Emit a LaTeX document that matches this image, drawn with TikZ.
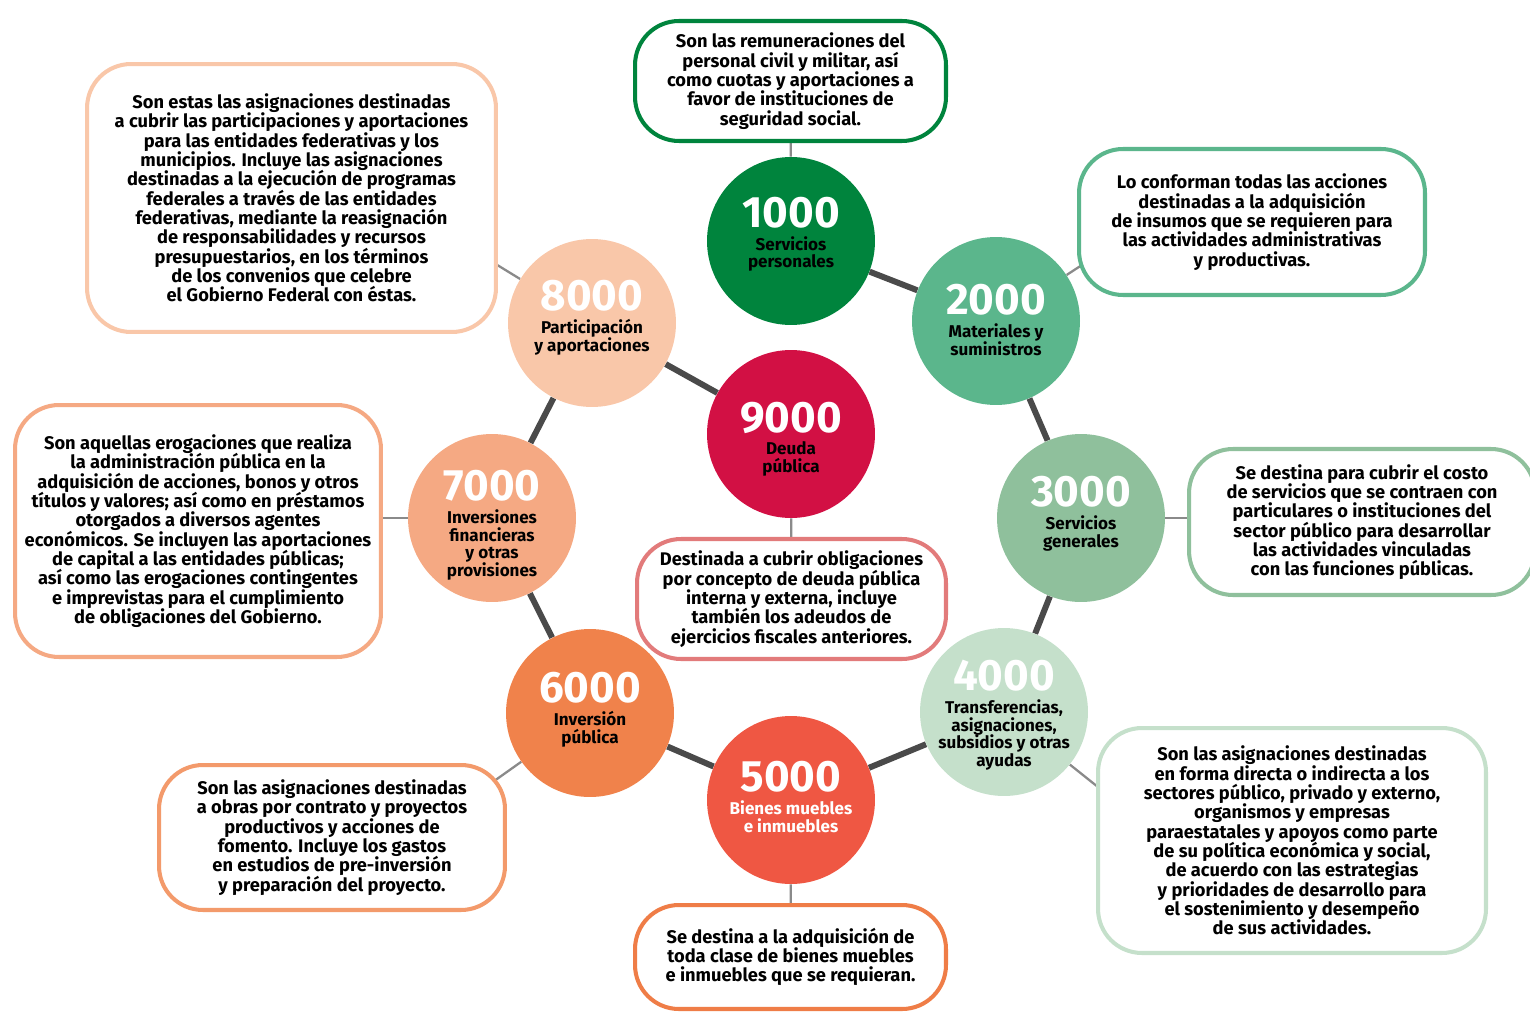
\documentclass[tikz,border=0pt]{standalone}
\usepackage{fontspec}
\setmainfont{Fira Sans}
\usetikzlibrary{calc,backgrounds}

% palette
\definecolor{cA}{HTML}{00843D}
\definecolor{cB}{HTML}{5BB68C}
\definecolor{cC}{HTML}{8FC09C}
\definecolor{cD}{HTML}{C5E0CB}
\definecolor{cE}{HTML}{EF5743}
\definecolor{cF}{HTML}{F0824B}
\definecolor{cG}{HTML}{F5A983}
\definecolor{cH}{HTML}{F9C7A9}
\definecolor{cI}{HTML}{D21044}
\definecolor{bE}{HTML}{EF7D47}
\definecolor{bF}{HTML}{F39A6B}
\definecolor{bI}{HTML}{E27B7B}
\definecolor{ringgray}{HTML}{4A4A4A}
\definecolor{linkgray}{HTML}{8A8A8A}

\begin{document}
\begin{tikzpicture}[x=0.02cm,y=-0.02cm,
  circ/.style={circle,minimum size=3.36cm,inner sep=0pt,draw=none},
  num/.style={inner sep=0pt,text=white,font=\fontsize{25}{25}\selectfont\bfseries},
  lab/.style={inner sep=0pt,align=center,text=black,font=\fontsize{9.7}{10.2}\selectfont\bfseries},
  card/.style={fill=white,line width=2.3pt,rounded corners=25pt,align=center,inner sep=0pt,
               text=black,font=\fontsize{10.4}{11}\selectfont\bfseries},
  ring/.style={draw=ringgray,line width=3.4pt},
  link/.style={draw=linkgray,line width=1.3pt}]
\useasboundingbox (0,0) rectangle (1530,1013);

% budget chapters
\node[circ,fill=cA] (c1) at (791,241) {};
\node[circ,fill=cB] (c2) at (996,321) {};
\node[circ,fill=cC] (c3) at (1081,518) {};
\node[circ,fill=cD] (c4) at (1004,712) {};
\node[circ,fill=cE] (c5) at (791,800) {};
\node[circ,fill=cF] (c6) at (590,713) {};
\node[circ,fill=cG] (c7) at (492,518) {};
\node[circ,fill=cH] (c8) at (592,323) {};
\node[circ,fill=cI] (c9) at (791,434) {};

\node[num] (n1) at ($(c1)+(0,-28)$) {1000};
\node[num] (n2) at ($(c2)+(0,-21)$) {2000};
\node[num] (n3) at ($(c3)+(0,-26)$) {3000};
\node[num] (n4) at ($(c4)+(0,-36)$) {4000};
\node[num] (n5) at ($(c5)+(0,-23)$) {5000};
\node[num] (n6) at ($(c6)+(0,-25)$) {6000};
\node[num] (n7) at ($(c7)+(0,-32)$) {7000};
\node[num] (n8) at ($(c8)+(0,-27)$) {8000};
\node[num] (n9) at ($(c9)+(0,-16)$) {9000};

\node[lab,anchor=north] (l1) at ([yshift=-4pt]n1.south) {Servicios\\personales};
\node[lab,anchor=north] (l2) at ([yshift=-4pt]n2.south) {Materiales y\\suministros};
\node[lab,anchor=north] (l3) at ([yshift=-4pt]n3.south) {Servicios\\generales};
\node[lab,anchor=north] (l4) at ([yshift=-4pt]n4.south) {Transferencias,\\asignaciones,\\subsidios y otras\\ayudas};
\node[lab,anchor=north,text=white] (l5) at ([yshift=-4pt]n5.south) {Bienes muebles\\e inmuebles};
\node[lab,anchor=north] (l6) at ([yshift=-4pt]n6.south) {Inversión\\pública};
\node[lab,anchor=north] (l7) at ([yshift=-4pt]n7.south) {Inversiones\\financieras\\y otras\\provisiones};
\node[lab,anchor=north] (l8) at ([yshift=-4pt]n8.south) {Participación\\y aportaciones};
\node[lab,anchor=north] (l9) at ([yshift=-4pt]n9.south) {Deuda\\pública};

% descriptions
\node[card,draw=cA,minimum width=6.22cm,minimum height=2.4cm] (b1) at (790.5,81)
  {Son las remuneraciones del\\personal civil y militar, así\\como cuotas y aportaciones a\\favor de instituciones de\\seguridad social.};
\node[card,draw=cB,minimum width=6.92cm,minimum height=2.92cm] (b2) at (1252,222)
  {Lo conforman todas las acciones\\destinadas a la adquisición\\de insumos que se requieren para\\las actividades administrativas\\y productivas.};
\node[card,draw=cC,minimum width=6.92cm,minimum height=2.92cm] (b3) at (1362,522)
  {Se destina para cubrir el costo\\de servicios que se contraen con\\particulares o instituciones del\\sector público para desarrollar\\las actividades vinculadas\\con las funciones públicas.};
\node[card,draw=cD,minimum width=7.76cm,minimum height=4.5cm] (b4) at (1292,840.5)
  {Son las asignaciones destinadas\\en forma directa o indirecta a los\\sectores público, privado y externo,\\organismos y empresas\\paraestatales y apoyos como parte\\de su política económica y social,\\de acuerdo con las estrategias\\y prioridades de desarrollo para\\el sostenimiento y desempeño\\de sus actividades.};
\node[card,draw=bE,minimum width=6.22cm,minimum height=2.08cm] (b5) at (790.5,957)
  {Se destina a la adquisición de\\toda clase de bienes muebles\\e inmuebles que se requieran.};
\node[card,draw=bF,minimum width=6.92cm,minimum height=2.9cm] (b6) at (332,837.5)
  {Son las asignaciones destinadas\\a obras por contrato y proyectos\\productivos y acciones de\\fomento. Incluye los gastos\\en estudios de pre-inversión\\y preparación del proyecto.};
\node[card,draw=cG,minimum width=7.32cm,minimum height=5.04cm] (b7) at (198,531)
  {Son aquellas erogaciones que realiza\\la administración pública en la\\adquisición de acciones, bonos y otros\\títulos y valores; así como en préstamos\\otorgados a diversos agentes\\económicos. Se incluyen las aportaciones\\de capital a las entidades públicas;\\así como las erogaciones contingentes\\e imprevistas para el cumplimiento\\de obligaciones del Gobierno.};
\node[card,draw=cH,minimum width=8.18cm,minimum height=5.36cm] (b8) at (291.5,198)
  {Son estas las asignaciones destinadas\\a cubrir las participaciones y aportaciones\\para las entidades federativas y los\\municipios. Incluye las asignaciones\\destinadas a la ejecución de programas\\federales a través de las entidades\\federativas, mediante la reasignación\\de responsabilidades y recursos\\presupuestarios, en los términos\\de los convenios que celebre\\el Gobierno Federal con éstas.};
\node[card,draw=bI,minimum width=6.18cm,minimum height=2.4cm] (b9) at (791.5,599)
  {Destinada a cubrir obligaciones\\por concepto de deuda pública\\interna y externa, incluye\\también los adeudos de\\ejercicios fiscales anteriores.};

% ends of the slanted leaders, tucked inside their cards
\coordinate (k2) at (1108,248);
\coordinate (k4) at (1118,803);
\coordinate (k6) at (473,796);
\coordinate (k8) at (476,252);

\begin{scope}[on background layer]
  % chain of chapters
  \draw[ring] (c9) -- (c8);
  \draw[ring] (c8) -- (c7);
  \draw[ring] (c7) -- (c6);
  \draw[ring] (c6) -- (c5);
  \draw[ring] (c5) -- (c4);
  \draw[ring] (c4) -- (c3);
  \draw[ring] (c3) -- (c2);
  \draw[ring] (c2) -- (c1);
  % leaders to the descriptions
  \draw[link] (c1) -- (b1);
  \draw[link] (c2) -- (k2);
  \draw[link] (c3.east) -- (c3.east -| b3.west);
  \draw[link] (c4) -- (k4);
  \draw[link] (c5) -- (b5);
  \draw[link] (c6) -- (k6);
  \draw[link] (c7.west) -- (c7.west -| b7.east);
  \draw[link] (c8) -- (k8);
  \draw[link] (c9) -- (b9);
\end{scope}
\end{tikzpicture}
\end{document}
